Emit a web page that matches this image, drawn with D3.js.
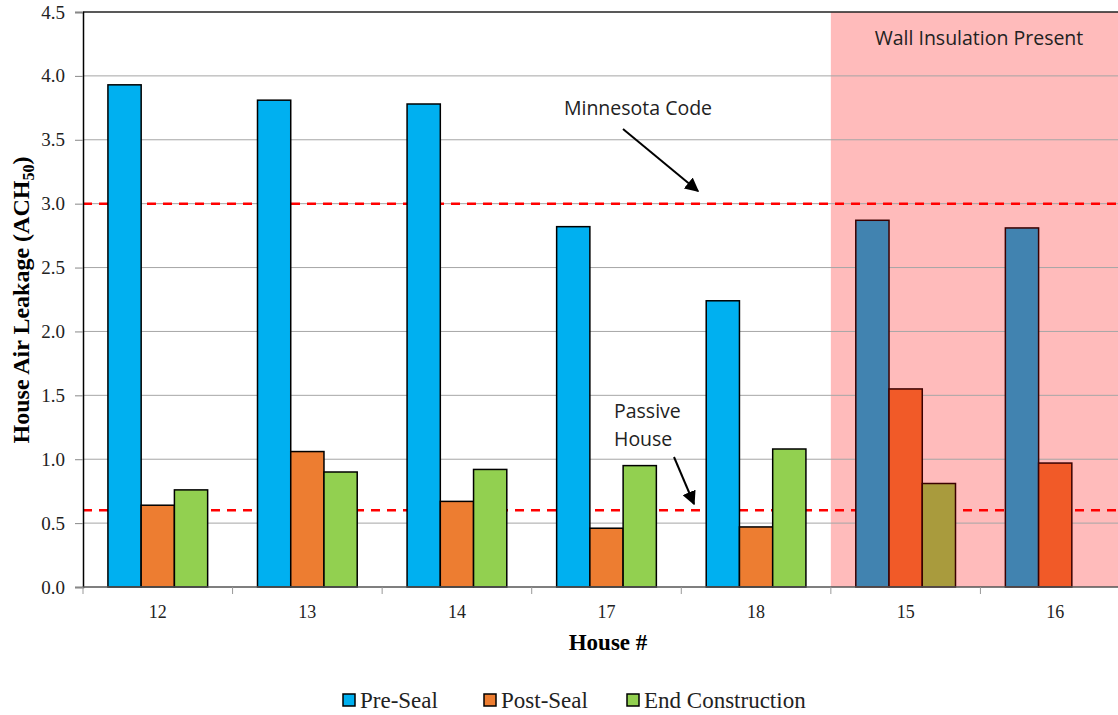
<!DOCTYPE html>
<html><head><meta charset="utf-8">
<script src="https://cdn.jsdelivr.net/npm/d3@7"></script>
<style>body{margin:0;background:#fff;}svg{display:block;} .serif{font-family:"Liberation Serif";}</style>
</head><body>
<svg id="c" width="1118" height="715"></svg>
<script>
const houses = ["12","13","14","17","18","15","16"];
const preSeal = [3.93, 3.81, 3.78, 2.82, 2.24, 2.87, 2.81];
const postSeal = [0.64, 1.06, 0.67, 0.46, 0.47, 1.55, 0.97];
const endConstruction = [0.76, 0.90, 0.92, 0.95, 1.08, 0.81, null];
const wallInsulated = [false, false, false, false, false, true, true];
const yTicks = [0, 0.5, 1, 1.5, 2, 2.5, 3, 3.5, 4, 4.5];
const refLines = [3.0, 0.6];
const seriesNames = ["Pre-Seal", "Post-Seal", "End Construction"];
const colors = ["#00B0F0", "#ED7D31", "#92D050"];
const colorsInsulated = ["#4183B0", "#F15A28", "#A99B3D"];

const SERIF = "Liberation Serif";
const SANS = "Open Sans";
const svg = d3.select("#c");
const m = {l:83, t:12, r:1130, b:587};
const x = d3.scaleBand().domain(houses).range([m.l, m.r]).paddingInner(0).paddingOuter(0);
const y = d3.scaleLinear().domain([0, 4.5]).range([m.b, m.t]);
const bw = x.bandwidth();
const inner = d3.scaleBand().domain([0,1,2]).range([bw/6, bw*5/6]);

// pink region
const firstIns = houses[wallInsulated.indexOf(true)];
svg.append("rect").attr("x", x(firstIns)).attr("y", m.t).attr("width", m.r - x(firstIns)).attr("height", m.b - m.t).attr("fill", "#FFBBBB");

// gridlines
svg.append("g").selectAll("line").data(yTicks.slice(1)).join("line")
  .attr("x1", m.l).attr("x2", m.r).attr("y1", d=>y(d)).attr("y2", d=>y(d))
  .attr("stroke", d => d===4.5 ? "#222" : "#A6A6A6").attr("stroke-width", d => d===4.5?1.5:1);

// ref lines
svg.append("g").selectAll("line").data(refLines).join("line")
  .attr("x1", m.l).attr("x2", m.r).attr("y1", d=>y(d)).attr("y2", d=>y(d))
  .attr("stroke", "#FF0000").attr("stroke-width", 2.5).attr("stroke-dasharray", "9,7");

// bars
const series = [preSeal, postSeal, endConstruction];
series.forEach((vals, si) => {
  svg.append("g").selectAll("rect").data(houses.map((h,i)=>({h, v:vals[i], ins:wallInsulated[i]})).filter(d=>d.v!=null)).join("rect")
    .attr("x", d => x(d.h) + inner(si))
    .attr("y", d => y(d.v))
    .attr("width", inner.bandwidth())
    .attr("height", d => y(0) - y(d.v))
    .attr("fill", d => d.ins ? colorsInsulated[si] : colors[si])
    .attr("stroke", d => d.ins ? "#3A0000" : "#000")
    .attr("stroke-width", 1.5);
});

// axes
const yAxis = svg.append("g").attr("transform", `translate(${m.l},0)`)
  .call(d3.axisLeft(y).tickValues(yTicks).tickFormat(d3.format(".1f")).tickSize(8).tickPadding(10));
yAxis.attr("font-family", SERIF).attr("font-size", 19);
yAxis.select(".domain").attr("stroke", "#000").attr("stroke-width", 1.5);
yAxis.selectAll(".tick line").attr("stroke", "#888");
yAxis.selectAll("text").attr("class", "serif").attr("font-family", SERIF).attr("fill", "#222");

svg.append("line").attr("x1", m.l).attr("x2", m.r).attr("y1", y(0)).attr("y2", y(0)).attr("stroke", "#555").attr("stroke-width", 1.5);
const bounds = houses.map(h => x(h)).concat([m.r]);
svg.append("g").selectAll("line").data(bounds).join("line")
  .attr("x1", d=>d).attr("x2", d=>d).attr("y1", y(0)).attr("y2", y(0)+7).attr("stroke", "#999");
svg.append("g").selectAll("text").data(houses).join("text").attr("class", "serif")
  .attr("x", d => x(d) + bw/2).attr("y", 618).attr("text-anchor", "middle")
  .attr("font-family", SERIF).attr("font-size", 18).attr("fill", "#222").text(d=>d);

// axis titles
svg.append("text").attr("class", "serif").attr("x", 608).attr("y", 650).attr("text-anchor", "middle")
  .attr("font-family", SERIF).attr("font-weight", "bold").attr("font-size", 23).text("House #");
const yt = svg.append("text").attr("class", "serif").attr("transform", "translate(29,300) rotate(-90)").attr("text-anchor", "middle")
  .attr("font-family", SERIF).attr("font-weight", "bold").attr("font-size", 24);
yt.append("tspan").text("House Air Leakage (ACH");
yt.append("tspan").attr("font-size", 16).attr("dy", 5).text("50");
yt.append("tspan").attr("dy", -5).text(")");

// annotations
svg.append("defs").append("marker").attr("id","ah").attr("viewBox","0 0 10 10").attr("refX",9).attr("refY",5)
  .attr("markerWidth",7).attr("markerHeight",7).attr("orient","auto")
  .append("path").attr("d","M0,0 L10,5 L0,10 z").attr("fill","#000");
svg.append("text").attr("x", 638).attr("y", 115).attr("text-anchor", "middle")
  .attr("font-family", SANS).attr("font-size", 19.5).attr("fill", "#222").text("Minnesota Code");
svg.append("line").attr("x1", 623).attr("y1", 129).attr("x2", 698).attr("y2", 191)
  .attr("stroke", "#000").attr("stroke-width", 2).attr("marker-end", "url(#ah)");
svg.append("text").attr("x", 614).attr("y", 418)
  .attr("font-family", SANS).attr("font-size", 19.5).attr("fill", "#222").text("Passive");
svg.append("text").attr("x", 614).attr("y", 446)
  .attr("font-family", SANS).attr("font-size", 19.5).attr("fill", "#222").text("House");
svg.append("line").attr("x1", 674).attr("y1", 457).attr("x2", 694).attr("y2", 504)
  .attr("stroke", "#000").attr("stroke-width", 2).attr("marker-end", "url(#ah)");
svg.append("text").attr("x", 979).attr("y", 45).attr("text-anchor", "middle")
  .attr("font-family", SANS).attr("font-size", 19.5).attr("fill", "#222").text("Wall Insulation Present");

// legend
const legX = [343, 484, 627];
const lg = svg.append("g").selectAll("g").data(seriesNames).join("g")
  .attr("transform", (d,i)=>`translate(${legX[i]},694)`);
lg.append("rect").attr("x",0).attr("y",0).attr("width",12).attr("height",12)
  .attr("fill", (d,i)=>colors[i]).attr("stroke","#000").attr("stroke-width",1.5);
lg.append("text").attr("class", "serif").attr("x", 17).attr("y", 14).attr("font-family", SERIF).attr("font-size", 23).attr("fill","#222").text(d=>d);
</script>
</body></html>
